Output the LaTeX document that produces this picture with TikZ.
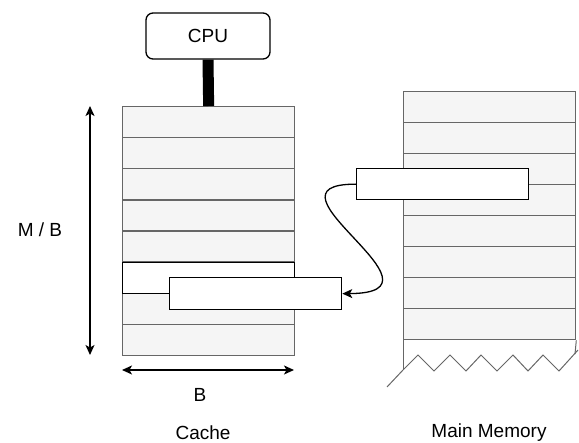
\documentclass[tikz,border=0pt]{standalone}
\usepackage{fontspec}
\setmainfont{Liberation Sans}
\usetikzlibrary{arrows.meta}
\definecolor{cellgray}{HTML}{F5F5F5}
\definecolor{edgegray}{HTML}{666666}
\begin{document}
\begin{tikzpicture}[x=1pt,y=-1pt,
  cell/.style={draw=edgegray, fill=cellgray, line width=1.3pt, minimum width=172pt, minimum height=31.1pt, inner sep=0pt, anchor=north west},
  blk/.style={draw=black, fill=white, line width=1.3pt, minimum width=172pt, minimum height=31.5pt, inner sep=0pt, anchor=north west},
  lbl/.style={font=\fontsize{19}{22}\selectfont, text=black},
  tip/.style={-{Stealth[length=10pt,width=9pt,inset=2.5pt]}},
  dim/.style={line width=1.3pt, {Stealth[length=10pt,width=9pt,inset=2.5pt]}-{Stealth[length=10pt,width=9pt,inset=2.5pt]}}]
\useasboundingbox (0,0) rectangle (579,443);

% cache rows
\foreach \i in {0,1,2,3,4,6,7} \node[cell] (c\i) at (122,{106+31.1*\i}) {};
\node[cell, draw=black, fill=white] (c5) at (122,{106+31.1*5}) {};
\draw[edgegray, line width=1.3pt] (c5.north west) -- (c5.north east);

% main memory rows
\foreach \i in {0,...,7} \node[cell] (m\i) at (403,{91+31*\i}) {};
% torn bottom
\draw[edgegray, line width=1pt] (m7.south west) -- (403,370);
\draw[edgegray, line width=1pt] (m7.south east) -- (575,354);
\draw[edgegray, line width=1pt] (387,387) -- (403,370) -- (418,355) -- (434,371) -- (450,355) -- (466,371) -- (481,355) -- (497,371) -- (513,355) -- (528,371) -- (543,355) -- (559,371) -- (578,350);

% blocks
\node[blk, minimum height=31pt] (mb) at (356,168) {};
\node[blk, minimum height=32pt] (cb) at (169,277) {};
\draw[line width=1.3pt, tip] (mb.west) .. controls (250,184) and (460,293) .. (cb.east);

% CPU
\node[draw, rounded corners=7pt, line width=1.3pt, minimum width=124pt, minimum height=46pt, lbl] (cpu) at (208,36) {CPU};
\draw[line width=11pt] (cpu.south) -- (c0.north);

% dimension arrows
\coordinate (mtop) at (90,106);
\coordinate (mbot) at (90,355);
\draw[dim] (mtop) -- (mbot);
\coordinate (bl) at (122,370);
\coordinate (br) at (294,370);
\draw[dim] (bl) -- (br);

% labels
\node[lbl] (mblbl) at (40,230) {M / B};
\node[lbl] (blbl) at (200,395) {B};
\node[lbl] (cachelbl) at (203,433) {Cache};
\node[lbl] (memlbl) at (489,433) {Main Memory};
\end{tikzpicture}
\end{document}
